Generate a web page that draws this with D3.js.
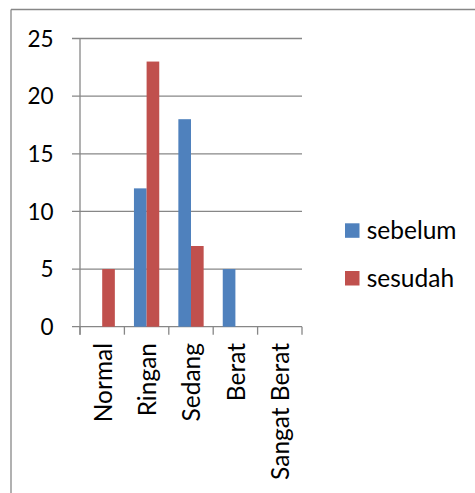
<!DOCTYPE html>
<html>
<head>
<meta charset="utf-8">
<script src="https://cdn.jsdelivr.net/npm/d3@7"></script>
<style>
  html, body { margin: 0; padding: 0; background: #fff; }
  svg { display: block; }
  text { font-family: Lato, "Noto Sans", sans-serif; fill: #000; }
</style>
</head>
<body>
<svg id="chart" width="475" height="493"></svg>
<script>
// Categories and the two series (before / after)
const categories = ["Normal", "Ringan", "Sedang", "Berat", "Sangat Berat"];
const seriesNames = ["sebelum", "sesudah"];
const sebelum = [0, 12, 18, 5, 0];
const sesudah = [5, 23, 7, 0, 0];
const yTicks = [0, 5, 10, 15, 20, 25];
const colors = ["#4F81BD", "#C0504D"];

const svg = d3.select("#chart");
const gridColor = "#878787";

// Outer frame: top and left edges
svg.append("line").attr("x1", 11).attr("x2", 475).attr("y1", 9.5).attr("y2", 9.5)
  .attr("stroke", gridColor).attr("stroke-width", 1.3);
svg.append("line").attr("x1", 11).attr("x2", 11).attr("y1", 9.5).attr("y2", 493)
  .attr("stroke", gridColor).attr("stroke-width", 1.3);

const plot = { left: 80, right: 302, top: 38.5, bottom: 326.7 };

const x = d3.scaleBand().domain(categories).range([plot.left, plot.right]).paddingInner(0).paddingOuter(0);
const xs = d3.scaleBand().domain(seriesNames).range([0, x.bandwidth()]).paddingInner(0).paddingOuter(0.755);
const y = d3.scaleLinear().domain([0, 25]).range([plot.bottom, plot.top]);

// Horizontal gridlines with outside tick marks on the value axis
svg.append("g").selectAll("line").data(yTicks).join("line")
  .attr("x1", plot.left - 8).attr("x2", plot.right)
  .attr("y1", d => y(d)).attr("y2", d => y(d))
  .attr("stroke", gridColor).attr("stroke-width", 1.3);

// Value axis line
svg.append("line").attr("x1", plot.left).attr("x2", plot.left)
  .attr("y1", plot.top).attr("y2", plot.bottom + 8)
  .attr("stroke", gridColor).attr("stroke-width", 1.3);

// Category tick marks below the baseline
const catTicks = categories.map(c => x(c)).concat([plot.right]);
svg.append("g").selectAll("line").data(catTicks).join("line")
  .attr("x1", d => d).attr("x2", d => d)
  .attr("y1", plot.bottom).attr("y2", plot.bottom + 8)
  .attr("stroke", gridColor).attr("stroke-width", 1.3);

// Value labels
svg.append("g").selectAll("text").data(yTicks).join("text")
  .attr("x", 53.5).attr("y", d => y(d)).attr("dy", "0.36em")
  .attr("text-anchor", "end").attr("font-size", 22.5)
  .text(d => d);

// Bars
const rows = categories.map((c, i) => ({ cat: c, vals: [sebelum[i], sesudah[i]] }));
const groups = svg.append("g").selectAll("g").data(rows).join("g")
  .attr("transform", d => `translate(${x(d.cat)},0)`);
groups.selectAll("rect").data(d => d.vals.map((v, k) => ({ v, k })).filter(e => e.v > 0)).join("rect")
  .attr("x", e => xs(seriesNames[e.k]))
  .attr("width", xs.bandwidth())
  .attr("y", e => y(e.v))
  .attr("height", e => y(0) - y(e.v))
  .attr("fill", e => colors[e.k]);

// Category labels, rotated
svg.append("g").selectAll("text").data(categories).join("text")
  .attr("transform", c => `translate(${x(c) + x.bandwidth() / 2},343) rotate(-90)`)
  .attr("dy", "0.38em")
  .attr("text-anchor", "end").attr("font-size", 24.5)
  .text(c => c);

// Legend
const legend = svg.append("g").selectAll("g").data(seriesNames).join("g")
  .attr("transform", (d, i) => `translate(345,${223.3 + i * 47.7})`);
legend.append("rect").attr("width", 14.5).attr("height", 14.5)
  .attr("fill", (d, i) => colors[i]);
legend.append("text").attr("x", 21.7).attr("y", 7.2).attr("dy", "0.36em")
  .attr("font-size", 24.5).text(d => d);
</script>
</body>
</html>
